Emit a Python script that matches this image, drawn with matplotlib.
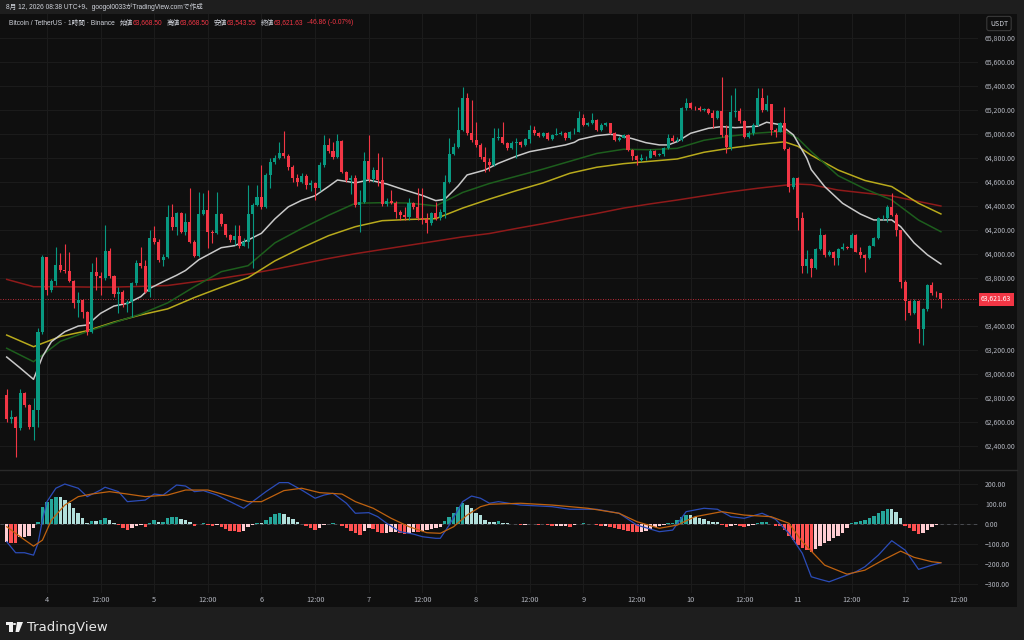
import matplotlib
matplotlib.use("Agg")
import matplotlib.pyplot as plt
from matplotlib.patches import Rectangle, Polygon, Circle
from matplotlib.transforms import blended_transform_factory
import numpy as np

plt.rcParams['font.family'] = ['Noto Sans CJK JP', 'DejaVu Sans']

# ---- data (1h candles, first candle = 3rd 15:00, last = 12th 08:00) ----
first_open = 62822
closes = [62619, 62640, 62544, 62836, 62739, 62558, 62697, 63350, 63970, 63697,
          63772, 63906, 63864, 63858, 63775, 63586, 63614, 63511, 63350, 63845,
          63817, 63794, 64025, 63814, 63664, 63678, 63578, 63600, 63758, 63919,
          63897, 63683, 64128, 64100, 63947, 63975, 64309, 64225, 64336, 64184,
          64267, 64100, 63981, 64328, 64364, 64184, 64170, 64328, 64245, 64156,
          64114, 64150, 64067, 64095, 64328, 64406, 64475, 64392, 64656, 64767,
          64800, 64836, 64814, 64725, 64628, 64600, 64650, 64570, 64590, 64550,
          64740, 64906, 64858, 64803, 64939, 64684, 64614, 64628, 64406, 64434,
          64775, 64620, 64697, 64614, 64414, 64442, 64425, 64350, 64322, 64308,
          64420, 64386, 64295, 64286, 64253, 64336, 64295, 64350, 64600, 64831,
          64892, 65031, 65295, 65003, 64947, 64906, 64808, 64761, 64740, 64961,
          64975, 64920, 64878, 64920, 64928, 64906, 64956, 65031, 65003, 64983,
          65003, 64956, 64989, 64995, 65003, 64961, 65011, 65017, 65128, 65072,
          65086, 65114, 65031, 65072, 65086, 65003, 64947, 64967, 64989, 64864,
          64817, 64781, 64795, 64800, 64856, 64822, 64828, 64878, 64967, 64939,
          64950, 65211, 65258, 65217, 65210, 65197, 65205, 65170, 65133, 65189,
          64989, 64892, 65183, 65190, 65106, 64975, 65003, 65072, 65294, 65197,
          65244, 65031, 65017, 65086, 64872, 64559, 64628, 64295, 63897, 63953,
          63878, 64036, 64156, 63989, 64017, 63961, 64036, 64058, 64050, 64156,
          64017, 63989, 63961, 64064, 64128, 64295, 64300, 64392, 64322, 64197,
          63767, 63608, 63508, 63608, 63370, 63536, 63739, 63670, 63668.5, 63621.63]
highs = [62869, 62700, 62650, 62869, 62850, 62745, 62794, 63380, 63989, 63975,
         63790, 64053, 64003, 64081, 64017, 63780, 63683, 63620, 63520, 63925,
         63970, 63845, 64239, 64045, 63820, 63725, 63700, 63610, 63767, 63947,
         64058, 63947, 64197, 64231, 64119, 63995, 64406, 64412, 64350, 64345,
         64336, 64545, 64110, 64517, 64503, 64531, 64195, 64517, 64340, 64250,
         64160, 64239, 64239, 64128, 64573, 64420, 64573, 64739, 64670, 64795,
         64820, 64934, 65022, 64830, 64740, 64660, 64670, 64665, 64610, 64600,
         64760, 64989, 64960, 64933, 64997, 64947, 64690, 64655, 64655, 64530,
         64850, 64989, 64720, 64836, 64809, 64460, 64530, 64440, 64360, 64390,
         64460, 64430, 64545, 64545, 64336, 64350, 64434, 64370, 64655, 64961,
         64920, 65225, 65392, 65336, 65280, 65100, 64920, 64892, 64800, 65045,
         65050, 65100, 64930, 64935, 64960, 64940, 64967, 65072, 65067, 65010,
         65015, 65010, 65000, 65045, 65020, 65017, 65020, 65050, 65189, 65161,
         65100, 65170, 65120, 65085, 65100, 65090, 65010, 64980, 65000, 64995,
         64870, 64825, 64830, 64815, 64870, 64865, 64840, 64890, 64995, 64990,
         64975, 65225, 65300, 65265, 65230, 65230, 65215, 65210, 65197, 65200,
         65475, 65072, 65322, 65383, 65210, 65115, 65020, 65090, 65378, 65378,
         65322, 65250, 65050, 65100, 65225, 64890, 64640, 64640, 64350, 64030,
         63960, 64045, 64211, 64160, 64030, 64020, 64045, 64086, 64065, 64170,
         64160, 64053, 63995, 64075, 64140, 64308, 64320, 64406, 64509, 64335,
         64200, 63780, 63615, 63620, 63615, 63545, 63750, 63767, 63690, 63668.5]
lows = [62600, 62590, 62308, 62530, 62720, 62540, 62447, 62560, 63330, 63656,
        63680, 63739, 63850, 63840, 63760, 63544, 63475, 63461, 63322, 63340,
        63697, 63656, 63780, 63800, 63642, 63503, 63558, 63517, 63475, 63740,
        63880, 63670, 63640, 64080, 63930, 63900, 63960, 64200, 64156, 64170,
        64156, 64090, 63975, 63970, 64320, 64045, 64086, 64160, 64230, 64140,
        64100, 64072, 64045, 64060, 64045, 63878, 64400, 64370, 64380, 64545,
        64750, 64790, 64800, 64700, 64600, 64560, 64590, 64540, 64520, 64447,
        64520, 64720, 64840, 64790, 64800, 64670, 64600, 64500, 64390, 64183,
        64420, 64600, 64600, 64560, 64400, 64400, 64410, 64300, 64280, 64280,
        64280, 64370, 64280, 64250, 64170, 64240, 64280, 64280, 64300, 64590,
        64820, 64880, 65020, 64990, 64930, 64890, 64790, 64680, 64690, 64730,
        64950, 64910, 64860, 64870, 64795, 64890, 64900, 64920, 64990, 64970,
        64975, 64945, 64950, 64985, 64990, 64950, 64955, 65000, 65010, 65060,
        65065, 65080, 65020, 65025, 65065, 64995, 64935, 64940, 64960, 64855,
        64780, 64740, 64770, 64780, 64795, 64815, 64810, 64815, 64870, 64930,
        64930, 64940, 65200, 65205, 65195, 65190, 65185, 65160, 65050, 65125,
        64975, 64836, 64864, 65140, 65090, 64960, 64960, 64990, 65060, 65180,
        65190, 64990, 64970, 65010, 64860, 64517, 64540, 64197, 63836, 63836,
        63808, 63870, 64030, 63975, 63980, 63905, 63905, 64030, 64040, 64045,
        64010, 63960, 63850, 63955, 64060, 64120, 64280, 64260, 64310, 64150,
        63711, 63447, 63490, 63500, 63253, 63239, 63525, 63655, 63640, 63543.55]

# fast average (white), read at the turning points
white_idx = [0, 3, 6, 8, 10, 13, 16, 18, 21, 24, 27, 30, 32, 35, 38, 40, 43, 46, 48,
             51, 54, 57, 60, 63, 66, 69, 72, 74, 78, 81, 85, 89, 93, 96, 98, 101,
             103, 107, 110, 114, 117, 121, 125, 127, 128, 132, 135, 137, 140, 143,
             146, 148, 150, 153, 157, 160, 163, 168, 170, 173, 176, 179, 180, 183,
             187, 191, 194, 198, 200, 203, 206, 209]
ma_white = [63139, 63048, 62953, 63142, 63267, 63350, 63397, 63406, 63503, 63564,
            63586, 63642, 63711, 63767, 63820, 63860, 63950, 64010, 64050, 64067,
            64114, 64170, 64290, 64390, 64445, 64483, 64560, 64614, 64590, 64614,
            64581, 64531, 64485, 64442, 64453, 64565, 64656, 64697, 64753, 64812,
            64850, 64878, 64906, 64928, 64950, 64984, 64995, 64986, 64958, 64925,
            64906, 64906, 64934, 65003, 65045, 65059, 65050, 65062, 65095, 65075,
            64990, 64795, 64700, 64559, 64420, 64330, 64281, 64281, 64225, 64090,
            63990, 63914]

# slower averages, read every 6 candles
ma_idx = [0, 6, 12, 18, 24, 30, 36, 42, 48, 54, 60, 66, 72, 78, 84, 90, 96, 102,
          108, 114, 120, 126, 132, 138, 144, 150, 156, 162, 168, 174, 177, 180, 186,
          192, 198, 204, 209]
ma_green = [63212, 63100, 63270, 63350, 63425, 63497, 63590, 63725, 63850, 63900,
            64090, 64210, 64320, 64420, 64425, 64422, 64398, 64510, 64585, 64645,
            64705, 64770, 64835, 64870, 64866, 64878, 64945, 64980, 65005, 65020,
            64960, 64850, 64650, 64540, 64447, 64280, 64183]
ma_yellow = [63322, 63225, 63310, 63358, 63430, 63490, 63540, 63635, 63720, 63800,
             63940, 64050, 64150, 64225, 64275, 64285, 64292, 64380, 64455, 64525,
             64590, 64670, 64720, 64750, 64770, 64789, 64845, 64880, 64910, 64932,
             64895, 64820, 64697, 64610, 64559, 64420, 64331]
ma_red = [63786, 63725, 63725, 63722, 63722, 63727, 63735, 63765, 63795, 63830,
          63870, 63915, 63960, 64000, 64035, 64070, 64105, 64140, 64168, 64210,
          64250, 64295, 64335, 64380, 64415, 64447, 64482, 64516, 64545, 64570,
          64580, 64575, 64530, 64505, 64481, 64435, 64397]

hist = [-90, -95, -98, -65, -65, -62, -23, 10, 82, 110, 122, 135, 132, 118, 102, 77,
        52, 27, 2, 15, 15, 18, 27, 18, 5, -7, -23, -32, -23, -12, -7, -18, 5, 18, 7,
        10, 27, 32, 35, 22, 18, 7, -12, -2, 5, -7, -12, -7, -15, -28, -35, -37, -40,
        -35, -15, -7, 5, 5, 18, 35, 47, 52, 47, 35, 22, 10, -2, -12, -23, -32, -23,
        -7, -3, 5, -3, -12, -23, -35, -48, -57, -35, -23, -28, -40, -48, -45, -40,
        -40, -48, -52, -45, -40, -42, -35, -32, -28, -23, -18, 15, 35, 55, 82, 102,
        93, 77, 55, 43, 18, 10, 10, 13, 5, 2, 0, -3, -7, -7, -3, -3, -7, -3, -7, -12,
        -12, -11, -10, -15, -7, -3, 2, -2, -3, -7, -12, -12, -18, -23, -27, -32, -37,
        -40, -43, -40, -35, -27, -18, -12, -7, 2, 5, 18, 35, 43, 43, 35, 27, 22, 15,
        10, 7, -7, -18, -12, -7, -12, -18, -12, -7, 5, 7, 10, -3, -12, -14, -32, -62,
        -82, -107, -123, -132, -140, -128, -112, -98, -85, -73, -62, -48, -23, 5, 10,
        13, 18, 27, 38, 52, 65, 72, 72, 60, 27, -12, -23, -35, -52, -48, -32, -18,
        -7, -3]
macd_idx = [0, 2, 4, 6, 7, 8, 9, 11, 13, 16, 18, 21, 22, 25, 27, 31, 33, 35, 38,
            40, 42, 44, 47, 50, 53, 55, 58, 61, 63, 66, 69, 71, 73, 76, 78, 81, 83,
            85, 88, 91, 93, 96, 97, 99, 102, 104, 106, 108, 110, 115, 122, 126, 132,
            137, 141, 146, 149, 152, 156, 159, 162, 165, 169, 172, 175, 178, 180,
            182, 184, 187, 190, 192, 195, 198, 201, 204, 207, 209]
macd_line = [-90, -145, -145, -157, -98, 18, 110, 177, 198, 177, 135, 168, 182,
             160, 110, 118, 148, 143, 193, 188, 160, 165, 143, 110, 77, 110, 160,
             205, 205, 168, 127, 143, 152, 102, 52, 55, 35, 2, -40, -52, -65, -73,
             -73, -7, 110, 138, 127, 102, 110, 93, 85, 72, 72, 52, -7, -40, -32,
             60, 77, 72, 35, 27, 52, 22, -48, -148, -265, -278, -290, -265, -240,
             -215, -157, -85, -132, -228, -207, -195]
signal_idx = [0, 3, 6, 8, 10, 13, 16, 19, 23, 27, 31, 36, 40, 45, 49, 54, 57, 62,
              66, 70, 75, 78, 82, 86, 90, 94, 97, 100, 103, 106, 108, 115, 122, 130,
              137, 141, 146, 150, 154, 160, 165, 171, 175, 178, 183, 188, 192, 196,
              200, 203, 207, 209]
signal_line = [-15, -65, -112, -82, 18, 93, 135, 148, 160, 148, 135, 143, 168, 168,
               143, 110, 110, 165, 177, 155, 148, 110, 77, 27, -15, -45, -48, -15,
               43, 85, 97, 102, 93, 77, 52, 10, -23, -7, 35, 60, 43, 35, 2, -90,
               -207, -252, -232, -182, -137, -168, -190, -195]

price_ticks = list(range(62400, 65801, 200))
macd_ticks = [200, 100, 0, -100, -200, -300]
time_labels = ['4', '12:00', '5', '12:00', '6', '12:00', '7', '12:00', '8', '12:00',
               '9', '12:00', '10', '12:00', '11', '12:00', '12', '12:00']

W, H = 1024, 640
BG = '#0f0f0f'
FRAME = '#1e1e1e'
GRID = '#1b1b1b'
TXT = '#b2b5be'
UP, DOWN = '#089981', '#f23645'
HEAD_FONT = ['Liberation Sans', 'Noto Sans CJK JP']


def fig_rect(x0, y0, x1, y1):
    return [x0 / W, 1 - y1 / H, (x1 - x0) / W, (y1 - y0) / H]


def fpt(px_x, px_y):
    # figure pixel (from top-left) -> figure fraction
    return (px_x / W, 1 - px_y / H)


fig = plt.figure(figsize=(W / 100, H / 100), dpi=100, facecolor=FRAME)
fig.patches.append(Rectangle((0, 1 - 607 / H), 1017 / W, (607 - 14) / H,
                             transform=fig.transFigure, facecolor=BG,
                             edgecolor='none', zorder=-5))

ax = fig.add_axes(fig_rect(0, 14, 978, 469))
ax2 = fig.add_axes(fig_rect(0, 470, 978, 593), sharex=ax)
for a in (ax, ax2):
    a.set_facecolor(BG)
    for s in a.spines.values():
        s.set_visible(False)
    a.tick_params(length=0, colors=TXT, labelsize=5)
    a.yaxis.tick_right()

n = len(closes)
x = np.arange(n)
opens = [first_open] + closes[:-1]
cols = [UP if c >= o else DOWN for o, c in zip(opens, closes)]

grid_x = [9 + 12 * k for k in range(len(time_labels))]
for gx in grid_x:
    ax.axvline(gx, color=GRID, lw=0.8, zorder=0)
    ax2.axvline(gx, color=GRID, lw=0.8, zorder=0)
for p in price_ticks:
    ax.axhline(p, color=GRID, lw=0.8, zorder=0)
for m in macd_ticks:
    ax2.axhline(m, color=GRID, lw=0.8, zorder=0)

# candles
ax.vlines(x, lows, highs, colors=cols, lw=0.8, zorder=3)
bottoms = [min(o, c) for o, c in zip(opens, closes)]
heights = [max(abs(c - o), 6) for o, c in zip(opens, closes)]
ax.bar(x, heights, bottom=bottoms, width=0.68, color=cols, lw=0, zorder=4)

# moving averages
ax.plot(ma_idx, ma_red, color='#8f1a1a', lw=1.1, zorder=2)
ax.plot(ma_idx, ma_yellow, color='#b8aa1c', lw=1.1, zorder=2)
ax.plot(ma_idx, ma_green, color='#1d5e1d', lw=1.1, zorder=2)
ax.plot(white_idx, ma_white, color='#c9c9c9', lw=1.1, zorder=2)

last = closes[-1]
ax.axhline(last, color=DOWN, lw=0.6, ls=(0, (1, 2)), zorder=1)
ax.set_xlim(-1.5, 217.3)
ax.set_ylim(62206, 65997)
ax.set_yticks(price_ticks)
# the 63,600 label sits under the last-price tag
ax.set_yticklabels(['' if abs(p - last) < 100 else f'{p:,.2f}' for p in price_ticks])
ax.tick_params(axis='y', pad=5)
plt.setp(ax.get_xticklabels(), visible=False)

tr = blended_transform_factory(ax.transAxes, ax.transData)
ax.text(1.003, last, f'{last:,.2f}', transform=tr, color='white', fontsize=5,
        va='center', ha='left', zorder=10, clip_on=False,
        bbox=dict(boxstyle='square,pad=0.35', fc=DOWN, ec='none'))

# MACD pane
hcols = []
for i, h in enumerate(hist):
    prev = hist[i - 1] if i > 0 else h
    if h >= 0:
        hcols.append('#26a69a' if h > prev else '#b2dfdb')
    else:
        hcols.append('#ff5252' if h < prev else '#ffcdd2')
ax2.bar(x, hist, width=0.78, color=hcols, lw=0, zorder=3)
ax2.plot(macd_idx, macd_line, color='#2b4cb8', lw=0.9, zorder=4)
ax2.plot(signal_idx, signal_line, color='#bf620f', lw=0.9, zorder=4)
ax2.axhline(0, color='#787b86', lw=0.6, ls=(0, (4, 4)), alpha=0.6, zorder=1)
ax2.set_ylim(-346, 268)
ax2.set_yticks(macd_ticks)
ax2.set_yticklabels([f'{m:.2f}'.replace('-', '\u2212') for m in macd_ticks])
ax2.tick_params(axis='y', pad=5)
ax2.set_xticks(grid_x)
ax2.set_xticklabels(time_labels)
ax2.tick_params(axis='x', pad=2.5, labelsize=5.3)

fig.add_artist(plt.Line2D([0, 1017 / W], [1 - 469.5 / H] * 2, color='#2a2a2a',
                          lw=1, transform=fig.transFigure))

# header texts
fig.text(6 / W, 1 - 7 / H, '8月 12, 2026 08:38 UTC+9、googol0033がTradingView.comで作成',
         color='#d1d4dc', fontsize=4.8, va='center', ha='left', family=HEAD_FONT)

renderer = fig.canvas.get_renderer()
parts = [('Bitcoin / TetherUS · 1時間 · Binance', '#d1d4dc', 5),
         ('始値', '#d1d4dc', 0), ('63,668.50', DOWN, 4),
         ('高値', '#d1d4dc', 0), ('63,668.50', DOWN, 4),
         ('安値', '#d1d4dc', 0), ('63,543.55', DOWN, 4),
         ('終値', '#d1d4dc', 0), ('63,621.63', DOWN, 4),
         ('-46.86 (-0.07%)', DOWN, 0)]
px = 9
for s, c, gap in parts:
    t = fig.text(px / W, 1 - 23 / H, s, color=c, fontsize=4.8, va='center',
                 ha='left', family=HEAD_FONT)
    px += t.get_window_extent(renderer=renderer).width + gap

fig.text(999 / W, 1 - 23.5 / H, 'USDT', color='#d1d4dc', fontsize=5, va='center',
         ha='center', bbox=dict(boxstyle='round,pad=0.45,rounding_size=0.3',
                                fc=BG, ec='#3a3a3a', lw=0.8))

# footer logo mark + word
logo = '#f0f0f0'
fig.patches.append(Rectangle(fpt(6, 625), 6.5 / W, 3 / H, transform=fig.transFigure,
                             fc=logo, ec='none'))
fig.patches.append(Rectangle(fpt(9, 632), 3.5 / W, 10 / H, transform=fig.transFigure,
                             fc=logo, ec='none'))
fig.patches.append(Circle(fpt(14.5, 624), 1.6 / W, transform=fig.transFigure,
                          fc=logo, ec='none'))
fig.patches.append(Polygon([fpt(17, 622), fpt(23, 622), fpt(19, 632), fpt(15.5, 632)],
                           closed=True, transform=fig.transFigure, fc=logo, ec='none'))
fig.text(27 / W, 1 - 627 / H, 'TradingView', color='#e8e8e8', fontsize=9.5,
         va='center', ha='left', family='DejaVu Sans')

fig.savefig('out.png', dpi=100, facecolor=FRAME)
